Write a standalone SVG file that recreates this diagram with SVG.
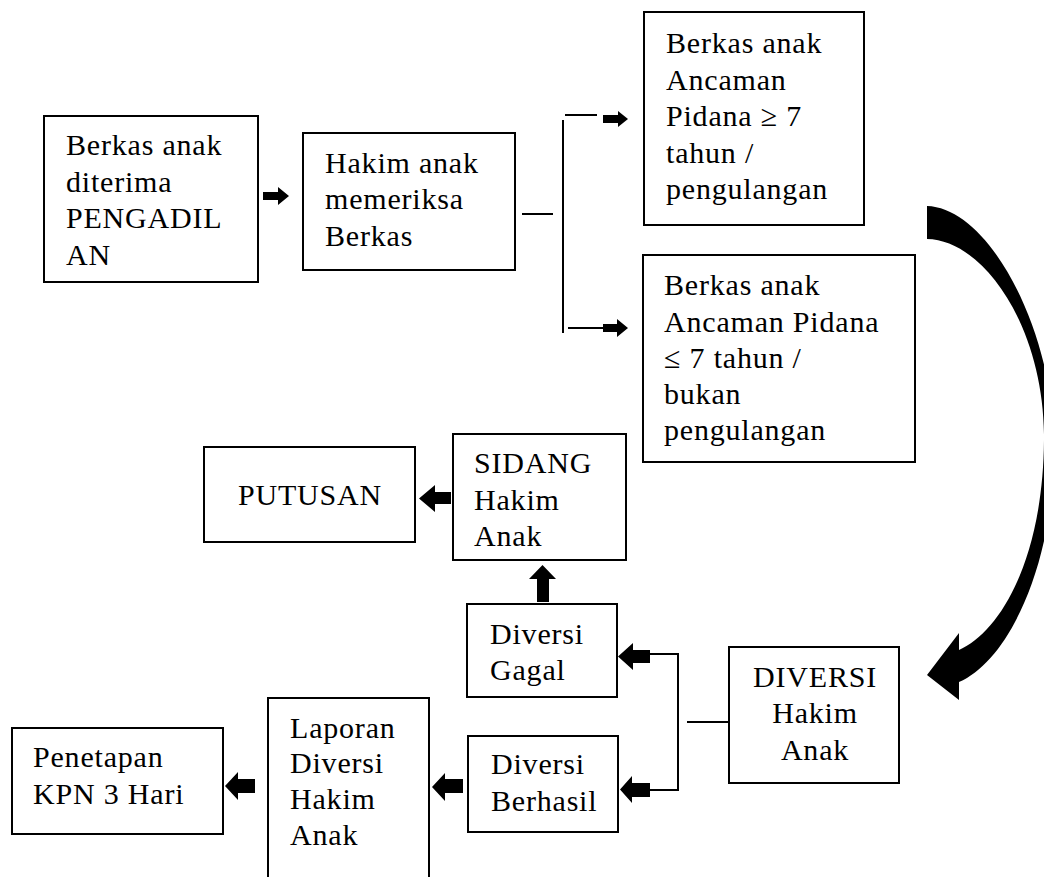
<svg xmlns="http://www.w3.org/2000/svg" width="1044" height="877" viewBox="0 0 1044 877">
<style>
.box{fill:#fff;stroke:#000;stroke-width:2}
.t{font-family:"Liberation Serif","Times New Roman",serif;font-size:30px;letter-spacing:0.8px;fill:#000}
.c{text-anchor:middle}
.ln{stroke:#000;stroke-width:2;fill:none}
.ar{fill:#000;stroke:none}
</style>
<rect width="1044" height="877" fill="#fff"/>
<g id="n-berkas">
<rect class="box" x="44" y="116" width="214" height="166"/>
<text class="t"><tspan x="66" y="155">Berkas anak</tspan><tspan x="66" y="192">diterima</tspan><tspan x="66" y="228">PENGADIL</tspan><tspan x="66" y="265">AN</tspan></text>
</g>
<g id="n-hakim">
<rect class="box" x="303" y="133" width="212" height="137"/>
<text class="t"><tspan x="325" y="173">Hakim anak</tspan><tspan x="325" y="209">memeriksa</tspan><tspan x="325" y="246">Berkas</tspan></text>
</g>
<g id="n-ge7">
<rect class="box" x="644" y="12" width="220" height="213"/>
<text class="t"><tspan x="666" y="53">Berkas anak</tspan><tspan x="666" y="90">Ancaman</tspan><tspan x="666" y="126">Pidana ≥ 7</tspan><tspan x="666" y="163">tahun /</tspan><tspan x="666" y="199">pengulangan</tspan></text>
</g>
<g id="n-le7">
<rect class="box" x="643" y="255" width="272" height="207"/>
<text class="t"><tspan x="664" y="295">Berkas anak</tspan><tspan x="664" y="332">Ancaman Pidana</tspan><tspan x="664" y="368">≤ 7 tahun /</tspan><tspan x="664" y="404">bukan</tspan><tspan x="664" y="440">pengulangan</tspan></text>
</g>
<g id="n-sidang">
<rect class="box" x="453" y="434" width="173" height="126"/>
<text class="t"><tspan x="474" y="473">SIDANG</tspan><tspan x="474" y="510">Hakim</tspan><tspan x="474" y="546">Anak</tspan></text>
</g>
<g id="n-putusan">
<rect class="box" x="204" y="447" width="211" height="95"/>
<text class="t" x="238" y="505">PUTUSAN</text>
</g>
<g id="n-gagal">
<rect class="box" x="467" y="604" width="150" height="93"/>
<text class="t"><tspan x="490" y="644">Diversi</tspan><tspan x="490" y="680">Gagal</tspan></text>
</g>
<g id="n-berhasil">
<rect class="box" x="468" y="736" width="150" height="96"/>
<text class="t"><tspan x="491" y="774">Diversi</tspan><tspan x="491" y="811">Berhasil</tspan></text>
</g>
<g id="n-diversi">
<rect class="box" x="729" y="647" width="170" height="136"/>
<text class="t c"><tspan x="815" y="687">DIVERSI</tspan><tspan x="815" y="723">Hakim</tspan><tspan x="815" y="760">Anak</tspan></text>
</g>
<g id="n-laporan">
<rect class="box" x="268" y="698" width="161" height="184"/>
<text class="t"><tspan x="290" y="738">Laporan</tspan><tspan x="290" y="773">Diversi</tspan><tspan x="290" y="809">Hakim</tspan><tspan x="290" y="845">Anak</tspan></text>
</g>
<g id="n-penetapan">
<rect class="box" x="12" y="728" width="211" height="106"/>
<text class="t"><tspan x="33" y="767">Penetapan</tspan><tspan x="33" y="804">KPN 3 Hari</tspan></text>
</g>
<g id="connectors">
<polygon class="ar" points="263,192 278,192 278,187 289,196 278,205 278,200 263,200"/>
<line class="ln" x1="522" y1="214" x2="553" y2="214"/>
<line class="ln" x1="563" y1="120" x2="563" y2="333"/>
<line class="ln" x1="565" y1="115" x2="597" y2="115"/>
<polygon class="ar" points="603,115 618,115 618,111 628,119 618,127 618,123 603,123"/>
<line class="ln" x1="568" y1="328" x2="604" y2="328"/>
<polygon class="ar" points="603,324 617,324 617,319 628,328 617,337 617,332 603,332"/>
<path class="ar" d="M927 206 C990 208 1052 330 1054 440 C1056 560 1010 660 959 682 L959 700 L927 675 L959 633 L959 650 C1000 632 1043 560 1044 440 C1045 330 985 240 927 239 Z"/>
<line class="ln" x1="687" y1="722" x2="729" y2="722"/>
<line class="ln" x1="678" y1="653" x2="678" y2="791"/>
<line class="ln" x1="650" y1="654" x2="679" y2="654"/>
<line class="ln" x1="650" y1="790" x2="679" y2="790"/>
<polygon class="ar" points="650,650 633,650 633,643 618,656.5 633,670 633,663 650,663"/>
<polygon class="ar" points="650,783 632,783 632,776 620,789.5 632,803 632,797 650,797"/>
<polygon class="ar" points="451,492 435,492 435,485 419,498.5 435,512 435,504 451,504"/>
<polygon class="ar" points="537,602 537,579 529,579 542.5,565 556,579 549,579 549,602"/>
<polygon class="ar" points="463,779 445,779 445,773 432,787 445,801 445,793 463,793"/>
<polygon class="ar" points="255,779 238,779 238,772 225,786 238,800 238,793 255,793"/>
</g>
</svg>
